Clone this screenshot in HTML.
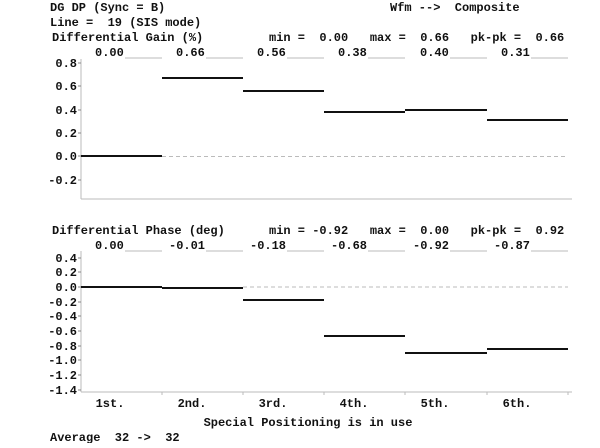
<!DOCTYPE html>
<html><head><meta charset="utf-8"><style>
html,body{margin:0;padding:0;background:#fff;}
svg text{font-family:"Liberation Mono",monospace;font-weight:bold;font-size:12px;fill:#111;white-space:pre;}
</style></head><body>
<svg width="600" height="443" viewBox="0 0 600 443" xmlns="http://www.w3.org/2000/svg">
<!-- headers -->
<text x="50" y="11">DG DP (Sync = B)</text>
<text x="390" y="11">Wfm -->  Composite</text>
<text x="50" y="26">Line =  19 (SIS mode)</text>
<text x="52" y="41">Differential Gain (%)</text>
<text x="269" y="41">min =  0.00   max =  0.66   pk-pk =  0.66</text>

<!-- top plot frame -->
<g stroke="#bbb" stroke-width="1" fill="none">
<line x1="81" y1="59" x2="81" y2="199"/>
<line x1="81" y1="199" x2="572" y2="199"/>
<line x1="125" y1="58" x2="162" y2="58"/>
<line x1="206" y1="58" x2="243" y2="58"/>
<line x1="287" y1="58" x2="324" y2="58"/>
<line x1="368" y1="58" x2="405" y2="58"/>
<line x1="450" y1="58" x2="487" y2="58"/>
<line x1="531" y1="58" x2="568" y2="58"/>
<line x1="162" y1="156.5" x2="568" y2="156.5" stroke-dasharray="4,3"/>
</g>
<g stroke="#888" stroke-width="1">
<line x1="78" y1="63" x2="81" y2="63"/><line x1="78" y1="86" x2="81" y2="86"/>
<line x1="78" y1="110" x2="81" y2="110"/><line x1="78" y1="133" x2="81" y2="133"/>
<line x1="78" y1="156" x2="81" y2="156"/><line x1="78" y1="180" x2="81" y2="180"/>
</g>
<g text-anchor="end">
<text x="77" y="67">0.8</text><text x="77" y="90">0.6</text><text x="77" y="114">0.4</text>
<text x="77" y="137">0.2</text><text x="77" y="160">0.0</text><text x="77" y="184">-0.2</text>
</g>
<g>
<text x="95" y="56">0.00</text><text x="176" y="56">0.66</text><text x="257" y="56">0.56</text>
<text x="338" y="56">0.38</text><text x="420" y="56">0.40</text><text x="501" y="56">0.31</text>
</g>
<g stroke="#111" stroke-width="2">
<line x1="81" y1="156" x2="162" y2="156"/>
<line x1="162" y1="78" x2="243" y2="78"/>
<line x1="243" y1="91" x2="324" y2="91"/>
<line x1="324" y1="112" x2="405" y2="112"/>
<line x1="405" y1="110" x2="487" y2="110"/>
<line x1="487" y1="120" x2="568" y2="120"/>
</g>

<!-- bottom plot -->
<text x="52" y="234">Differential Phase (deg)</text>
<text x="269" y="234">min = -0.92   max =  0.00   pk-pk =  0.92</text>
<g stroke="#bbb" stroke-width="1" fill="none">
<line x1="81" y1="251" x2="81" y2="392"/>
<line x1="81" y1="392" x2="572" y2="392"/>
<line x1="125" y1="251" x2="162" y2="251"/>
<line x1="206" y1="251" x2="243" y2="251"/>
<line x1="287" y1="251" x2="324" y2="251"/>
<line x1="368" y1="251" x2="405" y2="251"/>
<line x1="450" y1="251" x2="487" y2="251"/>
<line x1="531" y1="251" x2="568" y2="251"/>
<line x1="243" y1="287" x2="568" y2="287" stroke-dasharray="4,3"/>
<line x1="162" y1="392" x2="162" y2="395"/><line x1="243" y1="392" x2="243" y2="395"/>
<line x1="324" y1="392" x2="324" y2="395"/><line x1="405" y1="392" x2="405" y2="395"/>
<line x1="487" y1="392" x2="487" y2="395"/><line x1="568" y1="392" x2="568" y2="395"/>
</g>
<g stroke="#888" stroke-width="1">
<line x1="78" y1="258" x2="81" y2="258"/><line x1="78" y1="272" x2="81" y2="272"/>
<line x1="78" y1="287" x2="81" y2="287"/><line x1="78" y1="302" x2="81" y2="302"/>
<line x1="78" y1="316" x2="81" y2="316"/><line x1="78" y1="331" x2="81" y2="331"/>
<line x1="78" y1="346" x2="81" y2="346"/><line x1="78" y1="360" x2="81" y2="360"/>
<line x1="78" y1="375" x2="81" y2="375"/><line x1="78" y1="390" x2="81" y2="390"/>
</g>
<g text-anchor="end">
<text x="77" y="262">0.4</text><text x="77" y="276">0.2</text><text x="77" y="291">0.0</text>
<text x="77" y="306">-0.2</text><text x="77" y="320">-0.4</text><text x="77" y="335">-0.6</text>
<text x="77" y="350">-0.8</text><text x="77" y="364">-1.0</text><text x="77" y="379">-1.2</text>
<text x="77" y="394">-1.4</text>
</g>
<g>
<text x="95" y="249">0.00</text><text x="169" y="249">-0.01</text><text x="250" y="249">-0.18</text>
<text x="331" y="249">-0.68</text><text x="413" y="249">-0.92</text><text x="494" y="249">-0.87</text>
</g>
<g stroke="#111" stroke-width="2">
<line x1="81" y1="287" x2="162" y2="287"/>
<line x1="162" y1="288" x2="243" y2="288"/>
<line x1="243" y1="300" x2="324" y2="300"/>
<line x1="324" y1="336" x2="405" y2="336"/>
<line x1="405" y1="353" x2="487" y2="353"/>
<line x1="487" y1="349" x2="568" y2="349"/>
</g>
<g text-anchor="middle">
<text x="110" y="407">1st.</text><text x="192" y="407">2nd.</text><text x="273" y="407">3rd.</text>
<text x="354" y="407">4th.</text><text x="435" y="407">5th.</text><text x="517" y="407">6th.</text>
</g>
<text x="308" y="426" text-anchor="middle">Special Positioning is in use</text>
<text x="50" y="441">Average  32 ->  32</text>
</svg>
</body></html>
